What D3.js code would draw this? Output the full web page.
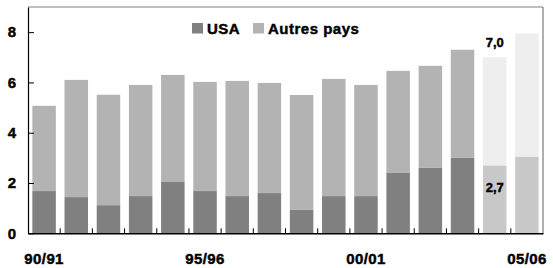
<!DOCTYPE html>
<html><head><meta charset="utf-8">
<script src="https://cdn.jsdelivr.net/npm/d3@7"></script>
</head>
<body style="margin:0;background:#fff"><svg id="c" width="553" height="268" style="display:block"></svg>
<script>
const categories = ["90/91","91/92","92/93","93/94","94/95","95/96","96/97","97/98","98/99","99/00","00/01","01/02","02/03","03/04","04/05","05/06"];
const usa    = [1.68,1.44,1.12,1.48,2.04,1.68,1.48,1.60,0.93,1.48,1.48,2.40,2.60,3.00,2.70,3.05];
const autres = [3.39,4.66,4.39,4.42,4.26,4.34,4.58,4.38,4.57,4.66,4.42,4.06,4.06,4.30,4.30,4.90];
const estimated = ["04/05","05/06"];
const shownTicks = ["90/91","95/96","00/01","05/06"];
const yTicks = [0,2,4,6,8];
const seriesNames = ["USA","Autres pays"];
const valueLabels = [{cat:"04/05", value:7.0, text:"7,0", pos:"above"},{cat:"04/05", value:2.7, text:"2,7", pos:"inside"}];

const colors = {usa:"#808080", autres:"#b3b3b3", usaEst:"#c8c8c8", autresEst:"#eeeeee"};
const FONT = "Liberation Sans";

const W = 553, H = 268;
const m = {l:28, r:10, t:7, b:35};
const svg = d3.select("#c");
const x = d3.scaleBand().domain(categories).range([m.l, W - m.r]).paddingInner(0.27).paddingOuter(0.135);
const y = d3.scaleLinear().domain([0,9]).range([H - m.b + 0.3, m.t]);

const data = categories.map((c,i)=>({cat:c, usa:usa[i], autres:autres[i], est:estimated.includes(c)}));
const stack = d3.stack().keys(["usa","autres"])(data);

function bold(sel, size){
  sel.style("font-family",FONT).style("font-weight","700").style("font-size",size+"px")
     .attr("fill","#000").attr("stroke","#000").attr("stroke-width",0.45);
  return sel;
}

// frame top & right
svg.append("line").attr("x1", m.l).attr("x2", W - m.r).attr("y1", y(9)).attr("y2", y(9)).attr("stroke","#808080").attr("stroke-width",1);
svg.append("line").attr("x1", W - m.r).attr("x2", W - m.r).attr("y1", y(9)).attr("y2", y(0)).attr("stroke","#606060").attr("stroke-width",1);

stack.forEach(s=>{
  svg.append("g").selectAll("rect").data(s).join("rect")
    .attr("x", d=>x(d.data.cat))
    .attr("width", x.bandwidth())
    .attr("y", d=>y(d[1]))
    .attr("height", d=>y(d[0]) - y(d[1]))
    .attr("fill", d=> s.key==="usa" ? (d.data.est?colors.usaEst:colors.usa) : (d.data.est?colors.autresEst:colors.autres));
});

// y axis
const yAxis = d3.axisLeft(y).tickValues(yTicks).tickSize(0).tickPadding(12).tickFormat(d3.format("d"));
const gy = svg.append("g").attr("transform",`translate(${m.l},0)`).call(yAxis);
gy.select(".domain").attr("stroke","#000").attr("stroke-width",1.2);
bold(gy.selectAll("text"),15);
gy.selectAll(".tick").append("line").attr("x1",0).attr("x2",6).attr("stroke","#000");

// x axis
const gx = svg.append("g").attr("transform",`translate(0,${y(0)})`)
  .call(d3.axisBottom(x).tickSize(0).tickPadding(20).tickFormat(d=>shownTicks.includes(d)?d:""));
gx.select(".domain").attr("stroke","#000").attr("stroke-width",1.5);
bold(gx.selectAll("text"),15).style("letter-spacing","0.4px");
// ticks at band boundaries
const bounds = categories.slice(1).map(c=>x(c) - x.step()*x.paddingInner()/2);
svg.append("g").selectAll("line").data(bounds).join("line")
  .attr("x1",d=>d).attr("x2",d=>d).attr("y1",y(0)).attr("y2",y(0)-5).attr("stroke","#000");

// value labels
bold(svg.append("g").selectAll("text").data(valueLabels).join("text")
  .attr("x", d=>x(d.cat)+x.bandwidth()/2)
  .attr("y", d=> d.pos==="above" ? y(d.value)-10 : y(d.value)+27)
  .attr("text-anchor","middle").text(d=>d.text),13);

// legend
const lg = svg.append("g");
const legendItems = [{name:seriesNames[0], color:colors.usa, x:192},{name:seriesNames[1], color:colors.autres, x:253}];
legendItems.forEach(it=>{
  lg.append("rect").attr("x",it.x).attr("y",23).attr("width",11).attr("height",10.5).attr("fill",it.color);
  bold(lg.append("text").attr("x",it.x+15).attr("y",33.5).text(it.name),15).style("letter-spacing","0.5px");
});
</script></body></html>
